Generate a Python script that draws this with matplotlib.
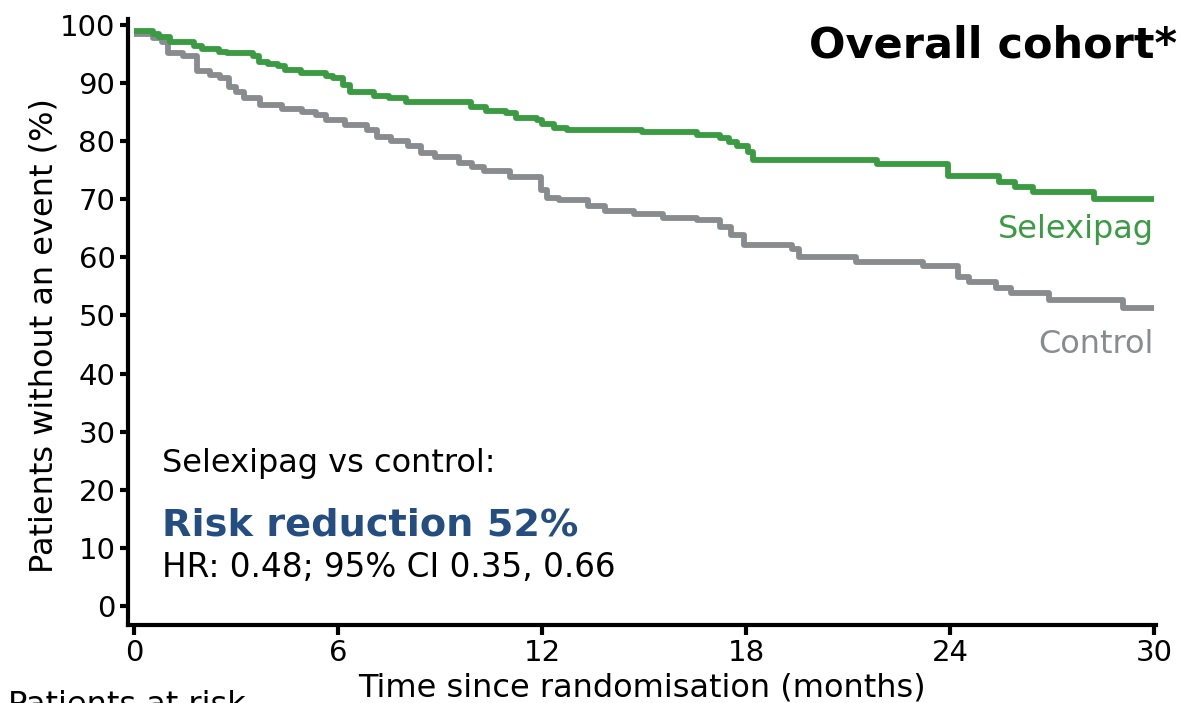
import matplotlib
matplotlib.use("Agg")
import matplotlib.pyplot as plt

# Kaplan-Meier step data: month at which each level starts, percent event-free
selexipag_t = [0, 0.55, 0.75, 1.05, 1.77, 2.0, 2.5, 2.75, 3.5, 3.68, 3.95, 4.25, 4.45,
               4.9, 5.65, 5.85, 6.15, 6.35, 7.05, 7.5, 8.0, 9.9, 10.35, 10.95, 11.25,
               11.85, 12.0, 12.35, 12.75, 14.95, 16.55, 17.25, 17.5, 17.75, 18.05, 18.2,
               21.85, 23.95, 25.45, 25.9, 26.45, 28.25, 30]
selexipag_s = [99.0, 98.4, 98.0, 97.1, 96.4, 95.9, 95.3, 95.1, 94.6, 93.7, 93.3, 93.0, 92.3,
               91.7, 91.3, 90.8, 89.7, 88.4, 87.8, 87.4, 86.7, 85.9, 85.2, 84.8, 84.0,
               83.7, 82.9, 82.2, 81.9, 81.5, 81.1, 80.5, 79.9, 79.2, 78.2, 76.8,
               76.1, 74.0, 73.0, 72.2, 71.3, 70.05, 70.05]

control_t = [0, 0.55, 0.83, 1.0, 1.43, 1.85, 2.25, 2.52, 2.8, 3.0, 3.25, 3.7, 4.35, 4.95,
             5.35, 5.65, 6.2, 6.85, 7.15, 7.55, 8.05, 8.45, 8.85, 9.55, 9.95, 10.3, 11.05,
             11.98, 12.15, 12.5, 13.35, 13.85, 14.7, 15.55, 16.55, 17.25, 17.55, 17.95,
             19.35, 19.55, 21.25, 23.2, 24.25, 24.55, 25.35, 25.8, 26.9, 29.1, 30]
control_s = [98.5, 97.7, 97.1, 95.1, 94.6, 92.0, 91.4, 90.8, 89.4, 88.5, 87.4, 86.2, 85.5, 85.1,
             84.5, 83.6, 82.8, 81.9, 80.8, 80.0, 79.1, 78.0, 77.2, 76.3, 75.6, 74.9, 73.9,
             71.6, 70.3, 69.9, 68.9, 67.9, 67.4, 66.8, 66.5, 65.3, 63.9, 62.1,
             61.4, 60.1, 59.2, 58.5, 56.6, 55.7, 54.8, 53.8, 52.7, 51.3, 51.3]

x_ticks = [0, 6, 12, 18, 24, 30]
y_ticks = [0, 10, 20, 30, 40, 50, 60, 70, 80, 90, 100]

GREEN = "#3a9b43"
GREY = "#898c8f"
BLUE = "#244d82"

plt.rcParams["font.family"] = ["DejaVu Sans"]

W, H = 1183, 703
fig = plt.figure(figsize=(W / 100, H / 100), dpi=100)
ax = fig.add_axes([128 / W, 78 / H, 1028 / W, 606 / H])

ax.step(control_t, control_s, where="post", color=GREY, lw=4.2, solid_capstyle="butt")
ax.step(selexipag_t, selexipag_s, where="post", color=GREEN, lw=4.2, solid_capstyle="butt")

ax.set_xlim(-0.176, 30.06)
ax.set_ylim(-3.27, 101.03)
ax.set_xticks(x_ticks)
ax.set_yticks(y_ticks)

for side in ("top", "right"):
    ax.spines[side].set_visible(False)
for side in ("left", "bottom"):
    ax.spines[side].set_linewidth(3)
ax.tick_params(axis="y", direction="out", length=6, width=3, labelsize=21, pad=3)
ax.tick_params(axis="x", direction="out", length=7, width=3, labelsize=21, pad=3)

ax.set_ylabel("Patients without an event (%)", fontsize=23)
ax.yaxis.set_label_coords(-0.067, 0.478)
ax.set_xlabel("Time since randomisation (months)", fontsize=23, labelpad=4)

fig.text(1177 / W, 1 - 46 / H, "Overall cohort*", ha="right", va="center",
         fontsize=31, fontweight="bold")

ax.text(30.0, 63.3, "Selexipag", color=GREEN, ha="right", va="baseline", fontsize=23)
ax.text(30.0, 43.6, "Control", color=GREY, ha="right", va="baseline", fontsize=23)

ax.text(0.83, 24.6, "Selexipag vs control:", ha="left", va="center", fontsize=23)
ax.text(0.83, 13.8, "Risk reduction 52%", ha="left", va="center", fontsize=27.5,
        fontweight="bold", color=BLUE)
ax.text(0.83, 6.7, "HR: 0.48; 95% CI 0.35, 0.66", ha="left", va="center", fontsize=23.5)

fig.text(8 / W, 1 - 690 / H, "Patients at risk", ha="left", va="top", fontsize=23)

fig.savefig("out.png", dpi=100)
